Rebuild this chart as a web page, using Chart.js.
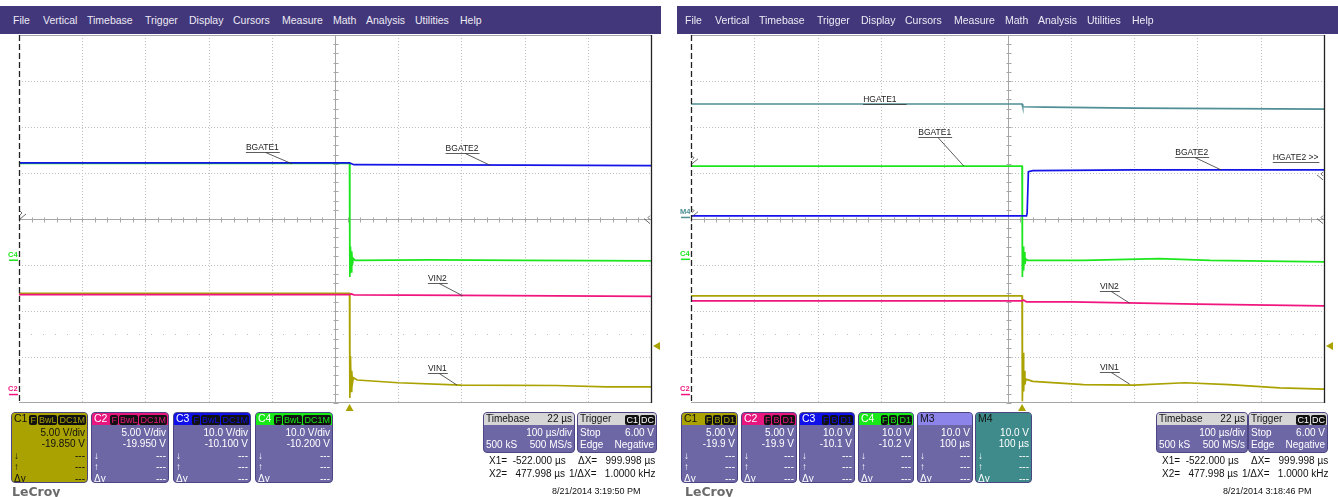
<!DOCTYPE html>
<html><head><meta charset="utf-8">
<script src="https://cdn.jsdelivr.net/npm/chart.js@4.4.1/dist/chart.umd.min.js"></script>
<style>
body{margin:0;background:#fff;width:1338px;height:497px;overflow:hidden;position:relative;font-family:'Liberation Sans',Arial,sans-serif}
canvas{position:absolute;top:0}
.menu{position:absolute;top:6px;height:28px;background:#42377a;color:#eceaf5;font-size:10.5px}
.menu span{position:absolute;top:8px}
.box{position:absolute;top:412px;height:71px;box-sizing:border-box;border:1px solid #4b4584;border-radius:4px;background:#6d67a6;color:#fff;font-size:10px;overflow:hidden}
.box div{position:absolute;white-space:nowrap;line-height:11px}
.hdr{left:0;right:0;top:0;height:12px}
.bdg{display:inline-block;background:#111;border-radius:2px;padding:0 1px;margin-left:1px;font-size:9px;line-height:10px}
.txt{position:absolute;font-size:10px;color:#111;white-space:nowrap}
.logo{position:absolute;top:484px;font:bold 12.5px 'DejaVu Sans',sans-serif;color:#6a6a6a;text-decoration:underline}
</style></head><body>
<canvas id="left" width="661" height="497" style="left:0"></canvas>
<canvas id="right" width="661" height="497" style="left:677px"></canvas>
<script>
// time axis in µs, vertical position in divisions (8 div screen)
const menuItems = ['File','Vertical','Timebase','Trigger','Display','Cursors','Measure','Math','Analysis','Utilities','Help'];
const menuX = [13,43,87,145,189,233,282,333,366,415,460];

// left capture 3:19:50 PM
const leftC1 = [[-500,-1.615],[23,-1.615],[23.5,-3.89],[24.5,-2.98],[25.5,-3.75],[26.5,-3.3],[27.5,-3.58],[29,-3.45],[35,-3.5],[100,-3.56],[200,-3.61],[350,-3.62],[430,-3.65],[500,-3.65]];
const leftC2 = [[-500,-1.645],[23,-1.645],[26,-1.63],[30,-1.65],[200,-1.66],[500,-1.68]];
const leftC3 = [[-500,1.22],[23,1.22],[30,1.18],[300,1.17],[500,1.16]];
const leftC4 = [[-500,1.21],[23,1.21],[23.5,-1.26],[24.5,-0.6],[25.5,-1.15],[26.5,-0.7],[27.5,-1.0],[29,-0.86],[32,-0.9],[150,-0.89],[300,-0.9],[500,-0.91]];

// right capture 3:18:46 PM
const rightC1 = [[-500,-1.67],[23,-1.67],[23.5,-3.96],[24.5,-2.91],[25.5,-3.75],[26.5,-3.3],[27.5,-3.6],[29,-3.48],[40,-3.53],[120,-3.6],[200,-3.61],[280,-3.56],[350,-3.6],[430,-3.67],[500,-3.7]];
const rightC2 = [[-500,-1.78],[23,-1.78],[25,-1.76],[30,-1.8],[100,-1.8],[300,-1.85],[500,-1.89]];
const rightC3 = [[-500,0.07],[30,0.07],[31,0.12],[33,1.03],[40,1.05],[200,1.07],[500,1.07]];
const rightC4 = [[-500,1.15],[23,1.15],[23.5,-1.26],[24.5,-0.6],[25.5,-1.12],[26.5,-0.72],[27.5,-0.98],[29,-0.87],[32,-0.9],[120,-0.9],[240,-0.86],[320,-0.9],[500,-0.93]];
const rightM4 = [[-500,2.5],[23,2.5],[24,2.44],[60,2.43],[200,2.41],[500,2.39]];

// trace labels: text, [t, div] of underline start, [t, div] leader end
const leftLabels = [
  ['BGATE1',[-141,1.46],[-68,1.2]],
  ['BGATE2',[175,1.43],[245,1.17]],
  ['VIN2',[147,-1.39],[202,-1.67]],
  ['VIN1',[147,-3.35],[193,-3.61]]
];
const rightLabels = [
  ['HGATE1',[-228,2.5],null],
  ['BGATE1',[-141,1.78],[-69,1.15]],
  ['BGATE2',[265,1.35],[337,1.07]],
  ['HGATE2 >>',[419,1.24],null],
  ['VIN2',[146,-1.57],[193,-1.83]],
  ['VIN1',[146,-3.33],[193,-3.59]]
];
const triggerTime = 23;
const triggerLevel = -2.76;

const col = {C1:'#aaa200', C2:'#f0157f', C3:'#1414e6', C4:'#1ee61e', M4:'#4f8f95'};

const xTicks = [-400,-300,-200,-100,100,200,300,400];
const yTicks = [-3,-2,-1,1,2,3];

const scopePlugin = {
  id:'scope',
  beforeDatasetsDraw(chart){
    const {ctx, chartArea:a, scales:{x,y}} = chart;
    ctx.save();
    ctx.lineWidth = 1;
    ctx.strokeStyle = '#bdbdbd';
    ctx.setLineDash([1,2]);
    xTicks.forEach(t=>{const p=Math.round(x.getPixelForValue(t))+0.5;ctx.beginPath();ctx.moveTo(p,a.top);ctx.lineTo(p,a.bottom);ctx.stroke();});
    yTicks.forEach(d=>{const p=Math.round(y.getPixelForValue(d))+0.5;ctx.beginPath();ctx.moveTo(a.left,p);ctx.lineTo(a.right,p);ctx.stroke();});
    ctx.setLineDash([1,11]);
    const pl=Math.round(y.getPixelForValue(-2.5))+0.5;
    ctx.beginPath();ctx.moveTo(a.left,pl);ctx.lineTo(a.right,pl);ctx.stroke();
    ctx.setLineDash([]);
    ctx.strokeStyle = '#a6a6a6';
    const cx=Math.round(x.getPixelForValue(0))+0.5, cy=Math.round(y.getPixelForValue(0))+0.5;
    ctx.beginPath();
    ctx.moveTo(cx,a.top);ctx.lineTo(cx,a.bottom);
    ctx.moveTo(a.left,cy);ctx.lineTo(a.right,cy);
    ctx.moveTo(a.left,a.top+0.5);ctx.lineTo(a.right,a.top+0.5);
    ctx.moveTo(a.left,a.bottom-0.5);ctx.lineTo(a.right,a.bottom-0.5);
    for(let t=-500;t<=500;t+=20){const p=Math.round(x.getPixelForValue(t))+0.5;ctx.moveTo(p,cy-2);ctx.lineTo(p,cy+3);}
    for(let d=-4;d<=4;d+=0.2){const p=Math.round(y.getPixelForValue(d))+0.5;ctx.moveTo(cx-2,p);ctx.lineTo(cx+3,p);}
    ctx.stroke();
    ctx.restore();
  },
  afterDatasetsDraw(chart){
    const {ctx, chartArea:a, scales:{x,y}} = chart;
    const o = chart.options.plugins.scope;
    ctx.save();
    // cursors at the edges
    ctx.strokeStyle='#222';ctx.lineWidth=1.3;
    ctx.setLineDash([6,3]);
    ctx.beginPath();ctx.moveTo(a.left+0.5,a.top);ctx.lineTo(a.left+0.5,a.bottom);ctx.stroke();
    ctx.setLineDash([]);
    ctx.beginPath();ctx.moveTo(a.right+0.5,a.top);ctx.lineTo(a.right+0.5,a.bottom);ctx.stroke();
    // trace labels
    ctx.font='8.5px "Liberation Sans", Arial';
    ctx.fillStyle='#222';ctx.strokeStyle='#333';ctx.lineWidth=0.8;
    o.labels.forEach(([txt,p,q])=>{
      const px=x.getPixelForValue(p[0]), py=Math.round(y.getPixelForValue(p[1]))+0.5;
      const w=ctx.measureText(txt).width;
      ctx.textBaseline='bottom';ctx.fillText(txt,px,py-1);
      ctx.beginPath();ctx.moveTo(px,py);
      if(q){ctx.lineTo(px+w+1,py);ctx.moveTo(px+w*0.6,py);ctx.lineTo(x.getPixelForValue(q[0]),y.getPixelForValue(q[1]));}
      else ctx.lineTo(px+w+(txt==='HGATE1'?10:1),py);
      ctx.stroke();
    });
    // trigger markers
    ctx.fillStyle=col.C1;
    const tx=x.getPixelForValue(triggerTime);
    ctx.beginPath();ctx.moveTo(tx,a.bottom+1);ctx.lineTo(tx-4,a.bottom+8);ctx.lineTo(tx+4,a.bottom+8);ctx.fill();
    const ty=y.getPixelForValue(triggerLevel);
    ctx.beginPath();ctx.moveTo(a.right+2,ty);ctx.lineTo(a.right+9,ty-4);ctx.lineTo(a.right+9,ty+4);ctx.fill();
    // channel ground markers on the left edge
    ctx.font='bold 7.5px "Liberation Sans", Arial';ctx.textBaseline='bottom';ctx.textAlign='left';
    o.markers.forEach(([txt,d,c])=>{
      const py=y.getPixelForValue(d);
      ctx.fillStyle=c;ctx.fillText(txt,a.left-11,py-1);
      ctx.fillRect(a.left-10,py,9,1.5);
    });
    // offset arrows
    ctx.strokeStyle='#444';ctx.lineWidth=0.8;
    o.arrows.forEach(([side,d])=>{
      const py=y.getPixelForValue(d), bx=side==='l'?a.left+1:a.right-1, s=side==='l'?1:-1;
      ctx.beginPath();ctx.moveTo(bx,py-8);ctx.lineTo(bx+s*2,py-6);ctx.lineTo(bx,py-4);ctx.moveTo(bx,py);ctx.lineTo(bx+s*6,py-5);ctx.stroke();
    });
    ctx.restore();
  }
};

// first series in the list is drawn on top
function makePanel(id, padL, padR, series, labels, markers, arrows){
  new Chart(document.getElementById(id), {
    type:'line',
    data:{datasets: series.map(([d,c])=>({data:d.map(([x,y])=>({x,y})),borderColor:c,borderWidth:1.7,pointRadius:0,tension:0,fill:false}))},
    options:{
      responsive:false, animation:false, events:[],
      layout:{padding:{left:padL,right:padR,top:35,bottom:94}},
      scales:{
        x:{type:'linear',min:-500,max:500,display:false},
        y:{type:'linear',min:-4,max:4,display:false}
      },
      plugins:{legend:{display:false},tooltip:{enabled:false},scope:{labels,markers,arrows}}
    },
    plugins:[scopePlugin]
  });
}

makePanel('left',19,10,[[leftC3,col.C3],[leftC4,col.C4],[leftC2,col.C2],[leftC1,col.C1]],leftLabels,
  [['C4',-0.88,col.C4],['C2',-3.8,col.C2]],[['l',0],['r',-0.1]]);
makePanel('right',14,14,[[rightM4,col.M4],[rightC3,col.C3],[rightC4,col.C4],[rightC2,col.C2],[rightC1,col.C1]],rightLabels,
  [['M4',0.05,col.M4],['C4',-0.86,col.C4],['C2',-3.8,col.C2]],[['l',1.2],['l',0.05],['r',0.85],['r',-0.1]]);

// ---- instrument chrome (HTML) ----
function el(cls, css, html, parent){const e=document.createElement('div');e.className=cls;e.style.cssText=css;e.innerHTML=html;(parent||document.body).appendChild(e);return e;}

[[0,661,0],[677,661,672]].forEach(([x,w,off])=>{
  const m=el('menu',`left:${x}px;width:${w}px`,'');
  menuItems.forEach((t,i)=>{const s=document.createElement('span');s.textContent=t;s.style.left=(menuX[i]+off-x)+'px';m.appendChild(s);});
});

const leftBoxes = [
  [11,77,'C1',col.C1,col.C1,'#111',['F','BwL','DC1M'],'5.00 V/div','-19.850 V'],
  [91,78,'C2','#e8177f',null,'#fff',['F','BwL','DC1M'],'5.00 V/div','-19.950 V'],
  [173,78,'C3','#1010e8',null,'#fff',['F','BwL','DC1M'],'10.0 V/div','-10.100 V'],
  [255,78,'C4','#18e818',null,'#fff',['F','BwL','DC1M'],'10.0 V/div','-10.200 V']
];
const rightBoxes = [
  [681,57,'C1',col.C1,null,'#fff',['F','B','D1'],'5.00 V','-19.9 V'],
  [741,56,'C2','#e8177f',null,'#fff',['F','B','D1'],'5.00 V','-19.9 V'],
  [799,56,'C3','#1010e8',null,'#fff',['F','B','D1'],'10.0 V','-10.1 V'],
  [858,56,'C4','#18e818',null,'#fff',['F','B','D1'],'10.0 V','-10.2 V'],
  [917,56,'M3','#8c84e8',null,'#fff',[],'10.0 V','100 µs'],
  [975,57,'M4','#3f8a8a','#3f8a8a','#fff',[],'10.0 V','100 µs']
];
leftBoxes.concat(rightBoxes).forEach(([x,w,name,hc,bc,tc,badges,v1,v2])=>{
  const b=el('box',`left:${x}px;width:${w}px;${bc?'background:'+bc+';':''}color:${tc}`,'');
  const darkHdr = name==='C1'||name==='M3'||name==='M4';
  el('hdr',`background:${hc}`,'',b);
  el('',`left:2px;top:0;font-size:10.5px;color:${darkHdr?'#111':'#fff'}`,name,b);
  el('',`right:1px;top:1px`,badges.map(t=>`<span class="bdg" style="color:${hc}">${t}</span>`).join(''),b);
  el('',`right:2px;top:14px`,v1,b);
  el('',`right:2px;top:25px`,v2,b);
  [['↓',37],['↑',48],['Δy',60]].forEach(([s,t])=>{el('',`left:2px;top:${t}px`,s,b);el('',`right:2px;top:${t}px`,'---',b);});
});

[[483,577,'3:19:50 PM',552],[1156,1248,'3:18:46 PM',1223]].forEach(([tb,tr,time,dx])=>{
  const a=el('box',`left:${tb}px;width:92px;height:41px`,'');
  el('hdr','background:#d6d6d6','',a);
  el('',`left:2px;top:0;color:#111`,'Timebase',a);
  el('',`right:2px;top:0;color:#111`,'22 µs',a);
  el('',`right:2px;top:14px`,'100 µs/div',a);
  el('',`left:2px;top:26px`,'500 kS',a);
  el('',`right:2px;top:26px`,'500 MS/s',a);
  const t=el('box',`left:${tr}px;width:80px;height:41px`,'');
  el('hdr','background:#d6d6d6','',t);
  el('',`left:2px;top:0;color:#111`,'Trigger',t);
  el('',`right:1px;top:1px`,'<span class="bdg" style="color:#fff">C1</span><span class="bdg" style="color:#fff">DC</span>',t);
  el('',`left:2px;top:14px`,'Stop',t);
  el('',`right:2px;top:14px`,'6.00 V',t);
  el('',`left:2px;top:26px`,'Edge',t);
  el('',`right:2px;top:26px`,'Negative',t);
  el('txt',`left:${tb+6}px;top:455px`,'X1=&nbsp; -522.000 µs',null);
  el('txt',`left:${tb+6}px;top:468px`,'X2=&nbsp;&nbsp; 477.998 µs',null);
  el('txt',`left:${tb+95}px;top:455px`,'ΔX=&nbsp;&nbsp; 999.998 µs',null);
  el('txt',`left:${tb+86}px;top:468px`,'1/ΔX=&nbsp;&nbsp; 1.0000 kHz',null);
  el('txt',`left:${dx}px;top:486px;font-size:9px`,'8/21/2014 '+time,null);
});
el('logo','left:12px','LeCroy');
el('logo','left:685px','LeCroy');
</script>
</body></html>
